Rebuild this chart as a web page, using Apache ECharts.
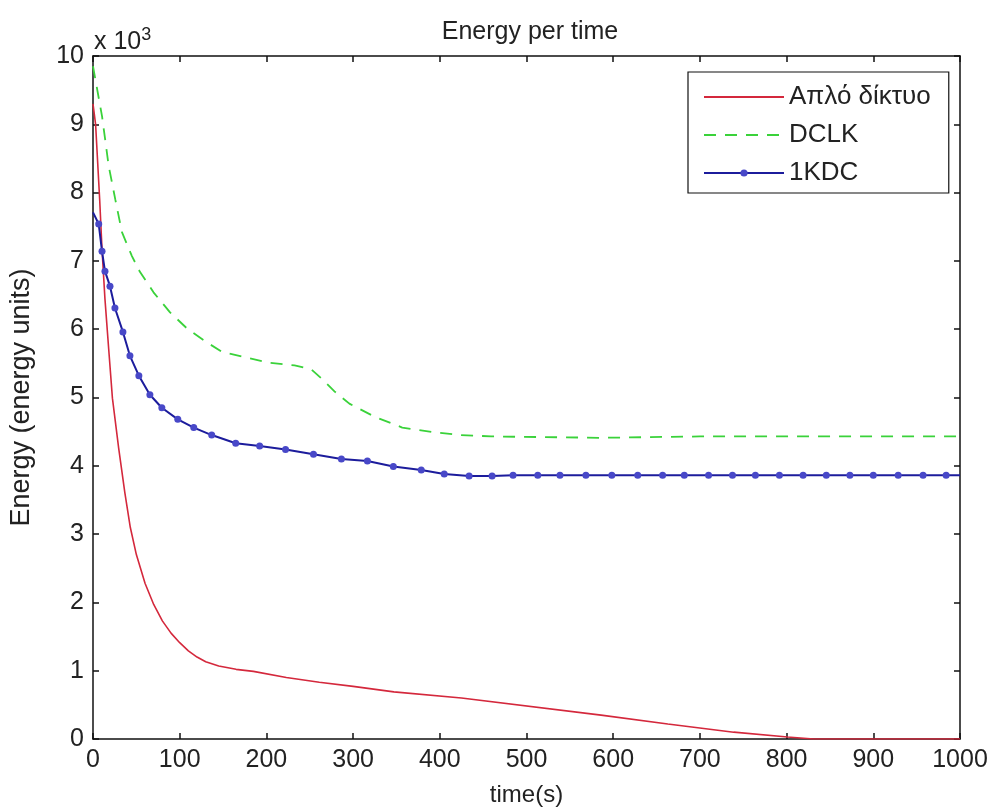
<!DOCTYPE html>
<html>
<head>
<meta charset="utf-8">
<script src="https://cdn.jsdelivr.net/npm/echarts@6/dist/echarts.min.js"></script>
<style>html,body{margin:0;padding:0;background:#fff;}#chart{width:992px;height:812px;}</style>
</head>
<body>
<div id="chart"></div>
<script>
// ---- data (energy in thousands of energy units) ----
const seriesNames = ['Απλό δίκτυο', 'DCLK', '1KDC'];

const redTime   = [0, 3, 7.7, 10.4, 13.8, 18.1, 22.4, 29.6, 36.8, 43, 50, 60, 70, 80, 90, 100, 110, 120, 130, 145, 165, 185, 223, 261, 300, 347, 425, 586, 663, 739, 801, 831, 1000];
const redEnergy = [9.3, 9.0, 7.9, 7.17, 6.44, 5.71, 4.99, 4.26, 3.6, 3.1, 2.7, 2.28, 1.97, 1.73, 1.55, 1.41, 1.29, 1.2, 1.13, 1.07, 1.02, 0.99, 0.9, 0.83, 0.77, 0.69, 0.6, 0.35, 0.22, 0.1, 0.03, 0, 0];

const greenTime   = [0, 10.4, 18.1, 25.7, 33.4, 44.9, 54.1, 69.8, 88.6, 109.3, 132.3, 148.4, 171.5, 202.2, 232.5, 252, 263.5, 278.5, 295.7, 324.5, 356.7, 393.6, 424.6, 459.1, 585.7, 700, 1000];
const greenEnergy = [9.85, 9.12, 8.39, 7.9, 7.42, 7.07, 6.84, 6.54, 6.25, 6.0, 5.8, 5.67, 5.6, 5.51, 5.47, 5.41, 5.28, 5.09, 4.91, 4.72, 4.56, 4.49, 4.45, 4.43, 4.41, 4.43, 4.43];

const blueTime   = [0, 6.6, 10.4, 13.8, 19.6, 25.3, 34.5, 42.6, 52.9, 65.6, 79.4, 97.8, 116.2, 136.9, 164.6, 192.2, 222.1, 254.3, 286.5, 316.5, 346.4, 378.6, 405.1, 433.8, 460.3, 484.5, 513, 538.6, 568.5, 598.4, 628.3, 657, 682, 710, 737.6, 764, 791.7, 819, 845.8, 873, 900, 928.7, 957.4, 984, 1000];
const blueEnergy = [7.71, 7.54, 7.14, 6.85, 6.63, 6.31, 5.96, 5.61, 5.32, 5.04, 4.85, 4.68, 4.56, 4.45, 4.33, 4.29, 4.24, 4.17, 4.10, 4.07, 3.99, 3.94, 3.88, 3.85, 3.85, 3.86, 3.86, 3.86, 3.86, 3.86, 3.86, 3.86, 3.86, 3.86, 3.86, 3.86, 3.86, 3.86, 3.86, 3.86, 3.86, 3.86, 3.86, 3.86, 3.86];

const xTicks = { min: 0, max: 1000, interval: 100 };
const yTicks = { min: 0, max: 10, interval: 1 };

// ---- chart ----
const FONT = '"Liberation Sans", Arial, sans-serif';
const pairs = (xs, ys) => xs.map((x, i) => [x, ys[i]]);
const blueData = pairs(blueTime, blueEnergy).map((p, i, a) =>
  (i === 0 || i === a.length - 1) ? { value: p, symbol: 'none' } : p);

const chart = echarts.init(document.getElementById('chart'), null, { renderer: 'canvas' });
const axisLine = { show: true, onZero: false, lineStyle: { color: '#111', width: 1.5 } };
const tick = { show: true, inside: true, length: 6, lineStyle: { color: '#111', width: 1.5 } };
const plain = v => String(v);

chart.setOption({
  animation: false,
  backgroundColor: '#fff',
  textStyle: { fontFamily: FONT },
  title: [
    { text: 'Energy per time', left: 525, top: 15, textAlign: 'center',
      textStyle: { fontSize: 25, fontWeight: 'normal', color: '#222', fontFamily: FONT } },
    { text: 'x 10{s|3}', left: 89, top: 21,
      textStyle: { fontSize: 25, fontWeight: 'normal', color: '#222', fontFamily: FONT,
        rich: { s: { fontSize: 18, verticalAlign: 'top', padding: [0, 0, 14, 0], color: '#222', fontFamily: FONT } } } }
  ],
  grid: { left: 91, right: 32, top: 56, bottom: 70, containLabel: false },
  legend: {
    orient: 'vertical', left: 688, top: 72,
    padding: [12, 18, 7, 15], itemGap: 12, itemWidth: 80, itemHeight: 9,
    borderColor: '#111', borderWidth: 1.2, borderRadius: 0, backgroundColor: '#fff',
    textStyle: { fontSize: 26, color: '#222', lineHeight: 26, fontFamily: FONT },
    data: [
      { name: seriesNames[0], itemStyle: { opacity: 0 } },
      { name: seriesNames[1], itemStyle: { opacity: 0 } },
      { name: seriesNames[2] }
    ]
  },
  xAxis: [
    { type: 'value', min: xTicks.min, max: xTicks.max, interval: xTicks.interval, position: 'bottom',
      name: 'time(s)', nameLocation: 'middle', nameGap: 44,
      nameTextStyle: { fontSize: 24, color: '#222', fontFamily: FONT },
      axisLine, axisTick: tick, splitLine: { show: false },
      axisLabel: { fontSize: 25, color: '#222', margin: 9, fontFamily: FONT, formatter: plain } },
    { type: 'value', min: xTicks.min, max: xTicks.max, interval: xTicks.interval, position: 'top',
      axisLine, axisTick: tick, splitLine: { show: false }, axisLabel: { show: false } }
  ],
  yAxis: [
    { type: 'value', min: yTicks.min, max: yTicks.max, interval: yTicks.interval, position: 'left',
      name: 'Energy (energy units)', nameLocation: 'middle', nameGap: 58,
      nameTextStyle: { fontSize: 27, color: '#222', fontFamily: FONT },
      axisLine, axisTick: tick, splitLine: { show: false },
      axisLabel: { fontSize: 25, color: '#222', margin: 9, fontFamily: FONT, formatter: plain } },
    { type: 'value', min: yTicks.min, max: yTicks.max, interval: yTicks.interval, position: 'right',
      axisLine, axisTick: tick, splitLine: { show: false }, axisLabel: { show: false } }
  ],
  series: [
    { name: seriesNames[0], type: 'line', data: pairs(redTime, redEnergy), showSymbol: false, symbol: 'none',
      lineStyle: { color: '#d4283c', width: 1.6 }, itemStyle: { color: '#d4283c' } },
    { name: seriesNames[1], type: 'line', data: pairs(greenTime, greenEnergy), showSymbol: false, symbol: 'none',
      lineStyle: { color: '#3ad23a', width: 1.8, type: [12, 9] }, itemStyle: { color: '#3ad23a' } },
    { name: seriesNames[2], type: 'line', data: blueData, symbol: 'circle', symbolSize: 7, showAllSymbol: true,
      lineStyle: { color: '#1c1c9c', width: 2 }, itemStyle: { color: '#4848c8' } }
  ]
});
</script>
</body>
</html>
